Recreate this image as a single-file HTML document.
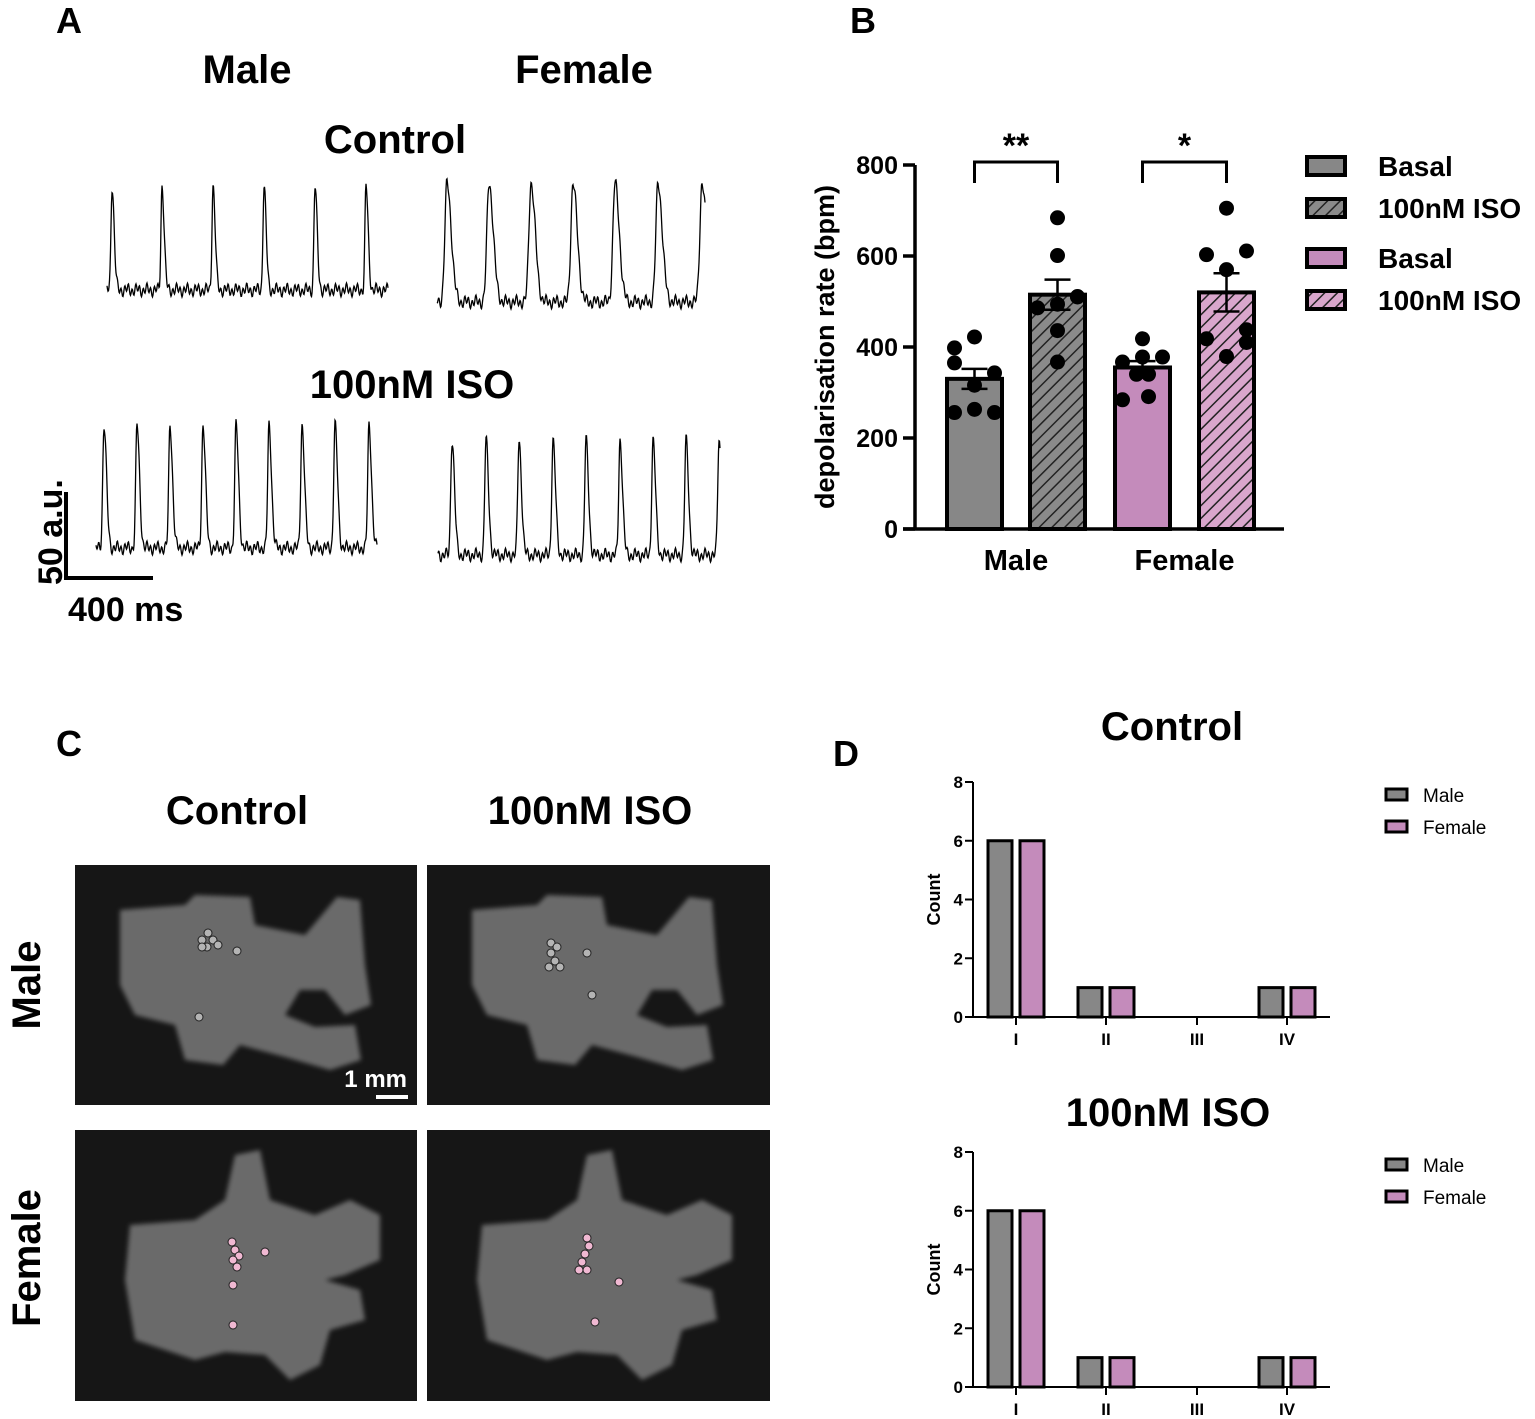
<!DOCTYPE html>
<html><head><meta charset="utf-8">
<style>
html,body{margin:0;padding:0;background:#fff;}
svg{display:block;font-family:"Liberation Sans",sans-serif;}
.b{font-weight:bold;}
</style></head>
<body>
<svg id="fig" width="1535" height="1419" viewBox="0 0 1535 1419" xmlns="http://www.w3.org/2000/svg">
<defs>
<pattern id="hatchG" patternUnits="userSpaceOnUse" width="9" height="9" patternTransform="rotate(45)">
<rect width="9" height="9" fill="#8a8a8a"/><line x1="0" y1="0" x2="0" y2="9" stroke="#222" stroke-width="3"/></pattern>
<pattern id="hatchP" patternUnits="userSpaceOnUse" width="9" height="9" patternTransform="rotate(45)">
<rect width="9" height="9" fill="#d9a6cc"/><line x1="0" y1="0" x2="0" y2="9" stroke="#222" stroke-width="3"/></pattern>
<filter id="blur"><feGaussianBlur stdDeviation="2.5"/></filter>
</defs>

<!-- Panel A -->
<g>
<text x="56" y="33" font-size="36" class="b">A</text>
<text x="247" y="83" font-size="40" class="b" text-anchor="middle">Male</text>
<text x="584" y="83" font-size="40" class="b" text-anchor="middle">Female</text>
<text x="395" y="153" font-size="40" class="b" text-anchor="middle">Control</text>
<text x="412" y="398" font-size="40" class="b" text-anchor="middle">100nM ISO</text>
<g id="traces"></g>
<line x1="66" y1="492" x2="66" y2="580" stroke="#000" stroke-width="4"/>
<line x1="64" y1="578" x2="153" y2="578" stroke="#000" stroke-width="4"/>
<text transform="translate(62,585) rotate(-90)" font-size="34" class="b">50 a.u.</text>
<text x="68" y="621" font-size="34" class="b">400 ms</text>
</g>

<!-- Panel B -->
<g id="panelB">
<text x="850" y="33" font-size="36" class="b">B</text>
<text transform="translate(834,347) rotate(-90)" font-size="27" class="b" text-anchor="middle">depolarisation rate (bpm)</text>
</g>

<!-- Panel C -->
<g id="panelC">
<text x="56" y="756" font-size="36" class="b">C</text>
<text x="237" y="824" font-size="40" class="b" text-anchor="middle">Control</text>
<text x="590" y="824" font-size="40" class="b" text-anchor="middle">100nM ISO</text>
<text transform="translate(40,985) rotate(-90)" font-size="40" class="b" text-anchor="middle">Male</text>
<text transform="translate(40,1258) rotate(-90)" font-size="40" class="b" text-anchor="middle">Female</text>
</g>

<!-- Panel D -->
<g id="panelD">
<text x="833" y="766" font-size="36" class="b">D</text>
<text x="1172" y="740" font-size="40" class="b" text-anchor="middle">Control</text>
<text x="1168" y="1126" font-size="40" class="b" text-anchor="middle">100nM ISO</text>
</g>
</svg>

<script>
// ---------- Panel B data ----------
const groupsB = ["Male", "Female"];
const barLabelsB = ["Male Basal", "Male 100nM ISO", "Female Basal", "Female 100nM ISO"];
const meansB = [330, 515, 355, 520];
const semB = [22, 33, 14, 42];
const dotsMaleBasal = [422, 398, 365, 343, 316, 256, 263, 256];
const dotsMaleIso = [684, 601, 511, 494, 486, 436, 367, 510];
const dotsFemaleBasal = [418, 367, 378, 378, 340, 284, 291, 340];
const dotsFemaleIso = [705, 603, 611, 570, 418, 438, 410, 379];
const yTicksB = [0, 200, 400, 600, 800];
const sigLabelsB = ["**", "*"];

// ---------- Panel D data ----------
const categoriesD = ["I", "II", "III", "IV"];
const controlMale = [6, 1, 0, 1];
const controlFemale = [6, 1, 0, 1];
const isoMale = [6, 1, 0, 1];
const isoFemale = [6, 1, 0, 1];
const yTicksD = [0, 2, 4, 6, 8];

const NS = "http://www.w3.org/2000/svg";
function mk(tag, attrs, parent) {
  const e = document.createElementNS(NS, tag);
  for (const k in attrs) e.setAttribute(k, attrs[k]);
  parent.appendChild(e);
  return e;
}

// ---------- Panel B ----------
(function () {
  const g = document.getElementById("panelB");
  const x0 = 915, y0 = 529, yTop = 165, xEnd = 1284;
  const y = v => y0 - (v / 800) * (y0 - yTop);
  const barX = [947, 1030, 1115, 1199], bw = 55;
  const fills = ["#878787", "url(#hatchG)", "#c48bbb", "url(#hatchP)"];
  const dots = [dotsMaleBasal, dotsMaleIso, dotsFemaleBasal, dotsFemaleIso];
  const dotOff = [[0,-1,-1,1,0,-1,0,1],[0,0,1,0,-1,0,0,1],[0,-1,0,1,0.3,-1,0.3,-0.3],[0,-1,1,0,-1,1,1,0]];
  barLabelsB.forEach((lab, i) => {
    const r = mk("rect", {x: barX[i], y: y(meansB[i]), width: bw, height: y0 - y(meansB[i]), fill: fills[i], stroke: "#000", "stroke-width": 4}, g);
    
    
    const cx = barX[i] + bw / 2;
    const e = mk("path", {d: `M${cx} ${y(meansB[i]-semB[i])}V${y(meansB[i]+semB[i])}M${cx-13} ${y(meansB[i]+semB[i])}H${cx+13}M${cx-13} ${y(meansB[i]-semB[i])}H${cx+13}`, stroke: "#000", "stroke-width": 2.5, fill: "none"}, g);
    
    
    dots[i].forEach((v, j) => {
      const c = mk("circle", {cx: cx + dotOff[i][j] * 20, cy: y(v), r: 7.5, fill: "#000"}, g);
      
      
    });
  });
  const ax = mk("path", {d: `M${x0} ${yTop}V${y0}M${x0-12} ${y0}H${xEnd}`, stroke: "#000", "stroke-width": 3.5, fill: "none"}, g);
  
  
  yTicksB.forEach(t => {
    const tk = mk("line", {x1: x0 - 12, x2: x0, y1: y(t), y2: y(t), stroke: "#000", "stroke-width": 3.5}, g);
    
    
    const tl = mk("text", {x: x0 - 17, y: y(t) + 9, "font-size": 25, "font-weight": "bold", "text-anchor": "end"}, g);
    tl.textContent = t;
    
    
  });
  groupsB.forEach((gn, i) => {
    const cx = (barX[i*2] + barX[i*2+1] + bw) / 2;
    const t = mk("text", {x: cx, y: 570, "font-size": 29, "font-weight": "bold", "text-anchor": "middle"}, g);
    t.textContent = gn;
    
    
    const a = barX[i*2] + bw/2, b = barX[i*2+1] + bw/2;
    const br = mk("path", {d: `M${a} 183V162H${b}V183`, stroke: "#000", "stroke-width": 3, fill: "none"}, g);
    
    
    const s = mk("text", {x: (a+b)/2, y: 157, "font-size": 34, "font-weight": "bold", "text-anchor": "middle"}, g);
    s.textContent = sigLabelsB[i];
    
    
  });
  const legY = [166, 208, 258, 300], legText = ["Basal", "100nM ISO", "Basal", "100nM ISO"];
  legY.forEach((ly, i) => {
    const r = mk("rect", {x: 1307, y: ly - 9, width: 38, height: 18, fill: fills[i], stroke: "#000", "stroke-width": 4}, g);
    
    
    const t = mk("text", {x: 1378, y: ly + 10, "font-size": 28, "font-weight": "bold"}, g);
    t.textContent = legText[i];
    
    
  });
})();

// ---------- Panel D ----------
function drawCount(top, zeroY, male, female, idx) {
  const g = document.getElementById("panelD");
  const x0 = 973, xEnd = 1330;
  const y = v => zeroY - (v / 8) * (zeroY - top);
  const catX = [1016, 1106, 1197, 1287];
  categoriesD.forEach((c, i) => {
    [[male, "#878787", -28], [female, "#c48bbb", 4]].forEach(([arr, col, off], k) => {
      if (arr[i] > 0) {
        const r = mk("rect", {x: catX[i] + off, y: y(arr[i]), width: 24, height: zeroY - y(arr[i]), fill: col, stroke: "#000", "stroke-width": 3}, g);
        
        
      }
    });
    const tk = mk("line", {x1: catX[i], x2: catX[i], y1: zeroY, y2: zeroY + 8, stroke: "#000", "stroke-width": 2}, g);
    
    
    const tl = mk("text", {x: catX[i], y: zeroY + 28, "font-size": 17, "font-weight": "bold", "text-anchor": "middle"}, g);
    tl.textContent = c;
    
    
  });
  const ax = mk("path", {d: `M${x0} ${top}V${zeroY}M${x0-8} ${zeroY}H${xEnd}`, stroke: "#000", "stroke-width": 2, fill: "none"}, g);
  
  
  yTicksD.forEach(t => {
    const tk = mk("line", {x1: x0 - 8, x2: x0, y1: y(t), y2: y(t), stroke: "#000", "stroke-width": 2}, g);
    
    
    const tl = mk("text", {x: x0 - 10, y: y(t) + 6, "font-size": 17, "font-weight": "bold", "text-anchor": "end"}, g);
    tl.textContent = t;
    
    
  });
  const yt = mk("text", {transform: `translate(940,${(top+zeroY)/2}) rotate(-90)`, "font-size": 18, "font-weight": "bold", "text-anchor": "middle"}, g);
  yt.textContent = "Count";
  
  
  [["Male", "#878787", 0], ["Female", "#c48bbb", 32]].forEach(([n, col, dy]) => {
    const r = mk("rect", {x: 1386, y: top + 7 + dy, width: 21, height: 11, fill: col, stroke: "#000", "stroke-width": 3}, g);
    
    
    const t = mk("text", {x: 1423, y: top + 20 + dy, "font-size": 19}, g);
    t.textContent = n;
    
    
  });
}
drawCount(782, 1017, controlMale, controlFemale, "control");
drawCount(1152, 1387, isoMale, isoFemale, "iso");

// ---------- Panel A traces ----------
(function () {
  const g = document.getElementById("traces");
  const traces = [
    {x0: 107, x1: 388, base: 290, peak: 186, peaks: [112,162,213,264,315,366], r: 1.5, f: 3, name: "trace-male-control"},
    {x0: 437, x1: 705, base: 302, peak: 183, peaks: [447,489,531,573,615,658,702], r: 3, f: 6, name: "trace-female-control"},
    {x0: 96, x1: 377, base: 548, peak: 425, peaks: [104,137,170,203,236,269,302,335,369], r: 1.8, f: 3.5, name: "trace-male-iso"},
    {x0: 438, x1: 720, base: 555, peak: 440, peaks: [452,486,519,553,586,620,653,686,719], r: 1.8, f: 3.5, name: "trace-female-iso"}
  ];
  traces.forEach(t => {
    let d = "";
    for (let x = t.x0; x <= t.x1; x += 0.5) {
      let v = t.base + 4 * Math.sin(x * 1.7) + 3 * Math.sin(x * 0.63);
      let a = 0;
      t.peaks.forEach(p => {
        const dx = x - p;
        const s = dx < 0 ? t.r : t.f;
        a = Math.max(a, Math.exp(-(dx / s) * (dx / s)));
      });
      v = v - (t.base - t.peak) * a;
      d += (d ? "L" : "M") + x + " " + v.toFixed(1);
    }
    const p = mk("path", {d: d, stroke: "#000", "stroke-width": 1.3, fill: "none"}, g);
    
    
  });
})();

// ---------- Panel C images ----------
(function () {
  const g = document.getElementById("panelC");
  const boxes = [
    {x: 75, y: 865, w: 342, h: 240, sex: "male", cond: "control"},
    {x: 427, y: 865, w: 343, h: 240, sex: "male", cond: "iso"},
    {x: 75, y: 1130, w: 342, h: 271, sex: "female", cond: "control"},
    {x: 427, y: 1130, w: 343, h: 271, sex: "female", cond: "iso"}
  ];
  const maleShape = "45,45 110,40 120,30 175,32 180,60 230,70 262,32 285,35 290,100 296,140 270,150 250,125 225,125 210,150 240,162 280,160 286,195 255,205 210,192 165,180 148,200 110,195 100,160 60,150 45,120";
  const femaleShape = "55,95 120,90 150,70 160,25 185,20 195,70 240,85 275,70 305,85 305,130 270,145 250,150 285,160 290,190 255,200 245,235 215,250 190,225 150,222 120,230 90,220 60,210 50,150";
  const maleDots = {control: [[133,68],[127,75],[138,75],[132,82],[127,82],[143,80],[162,86],[124,152]], iso: [[124,78],[130,82],[124,88],[128,96],[122,102],[133,102],[160,88],[165,130]]};
  const femaleDots = {control: [[157,112],[160,120],[164,126],[158,130],[162,137],[190,122],[158,155],[158,195]], iso: [[160,108],[162,116],[158,124],[155,132],[160,140],[152,140],[192,152],[168,192]]};
  boxes.forEach(b => {
    const im = mk("g", {transform: `translate(${b.x},${b.y})`}, g);
    
    
    mk("rect", {width: b.w, height: b.h, fill: "#161616"}, im);
    mk("polygon", {points: b.sex === "male" ? maleShape : femaleShape, fill: "#6b6b6b", filter: "url(#blur)"}, im);
    const dots = (b.sex === "male" ? maleDots : femaleDots)[b.cond];
    dots.forEach(([cx, cy]) => {
      const c = mk("circle", {cx: cx, cy: cy, r: 4, fill: b.sex === "male" ? "#b4b4b4" : "#f0b8d2", stroke: "#222", "stroke-width": 1}, im);
      
      
    });
  });
  const t = mk("text", {x: 407, y: 1087, "font-size": 24, "font-weight": "bold", fill: "#fff", "text-anchor": "end"}, g);
  t.textContent = "1 mm";
  
  
  const l = mk("line", {x1: 376, x2: 408, y1: 1097, y2: 1097, stroke: "#fff", "stroke-width": 4}, g);
  
  
})();
</script>
</body></html>
